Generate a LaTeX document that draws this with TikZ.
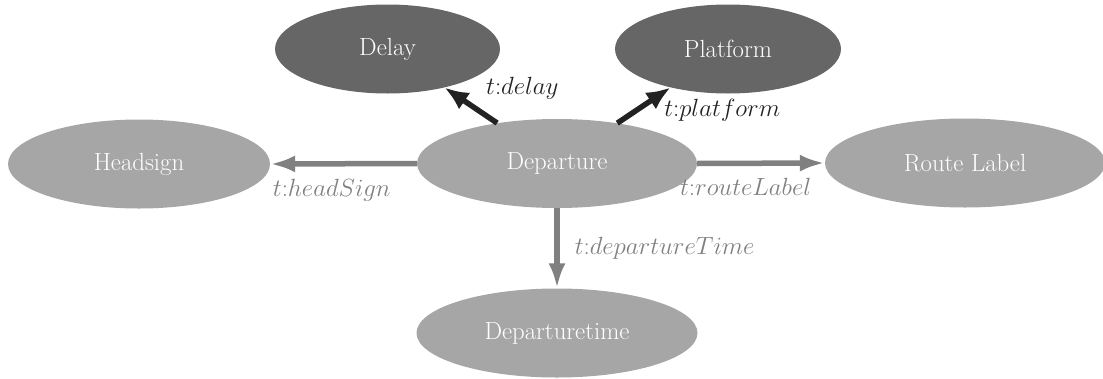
\documentclass[tikz,border=0pt]{standalone}
\usepackage{fontspec}
\usetikzlibrary{shapes.geometric,arrows.meta}
\definecolor{nodedark}{HTML}{666666}
\definecolor{nodelight}{HTML}{A6A6A6}
\definecolor{edgegray}{HTML}{808080}
\definecolor{edgedark}{HTML}{222222}
\tikzset{
  ent/.style={ellipse, inner sep=0pt, text=white, minimum height=89pt,
    font=\fontsize{24.8}{29}\selectfont},
  entlight/.style={ent, fill=nodelight},
  entdark/.style={ent, fill=nodedark},
  relgray/.style={draw=edgegray, line width=5.5pt,
    -{Latex[length=25pt,width=17pt]}},
  reldark/.style={draw=edgedark, line width=5.5pt,
    -{Latex[length=24pt,width=20pt]}},
  lbl/.style={inner sep=0pt, font=\fontsize{24.8}{29}\selectfont},
  lblgray/.style={lbl, text=edgegray},
  lbldark/.style={lbl, text=edgedark},
}
\begin{document}
\begin{tikzpicture}[x=1pt,y=-1pt]
  \useasboundingbox (0,0) rectangle (1103,378);

  % resources
  \node[entlight, minimum width=280pt] (dep)  at (557,163.5) {Departure};
  \node[entdark,  minimum width=225pt] (delay) at (387.5,49) {Delay};
  \node[entdark,  minimum width=226pt] (plat)  at (728,49)   {Platform};
  \node[entlight, minimum width=262pt] (head)  at (139,164)  {Headsign};
  \node[entlight, minimum width=280pt] (route) at (965,163)  {Route Label};
  \node[entlight, minimum width=281pt] (dtime) at (557,333)  {Departuretime};

  % properties
  \draw[reldark] (dep) -- (delay)
    node[lbldark, pos=0.26, anchor=south west, yshift=12pt] {$t{:}delay$};
  \draw[reldark] (dep) -- (plat)
    node[lbldark, at end, anchor=north west, xshift=-9pt, yshift=-9pt] {$t{:}platform$};
  \draw[relgray] (dep.west) -- (head.east)
    node[lblgray, pos=0.58, anchor=north, yshift=-13pt] {$t{:}headSign$};
  \draw[relgray] (dep.east) -- (route.west)
    node[lblgray, pos=0.38, anchor=north, yshift=-12pt] {$t{:}routeLabel$};
  \draw[relgray] (dep.south) -- (dtime.north)
    node[lblgray, midway, anchor=west, xshift=15pt] {$t{:}departureTime$};
\end{tikzpicture}
\end{document}
